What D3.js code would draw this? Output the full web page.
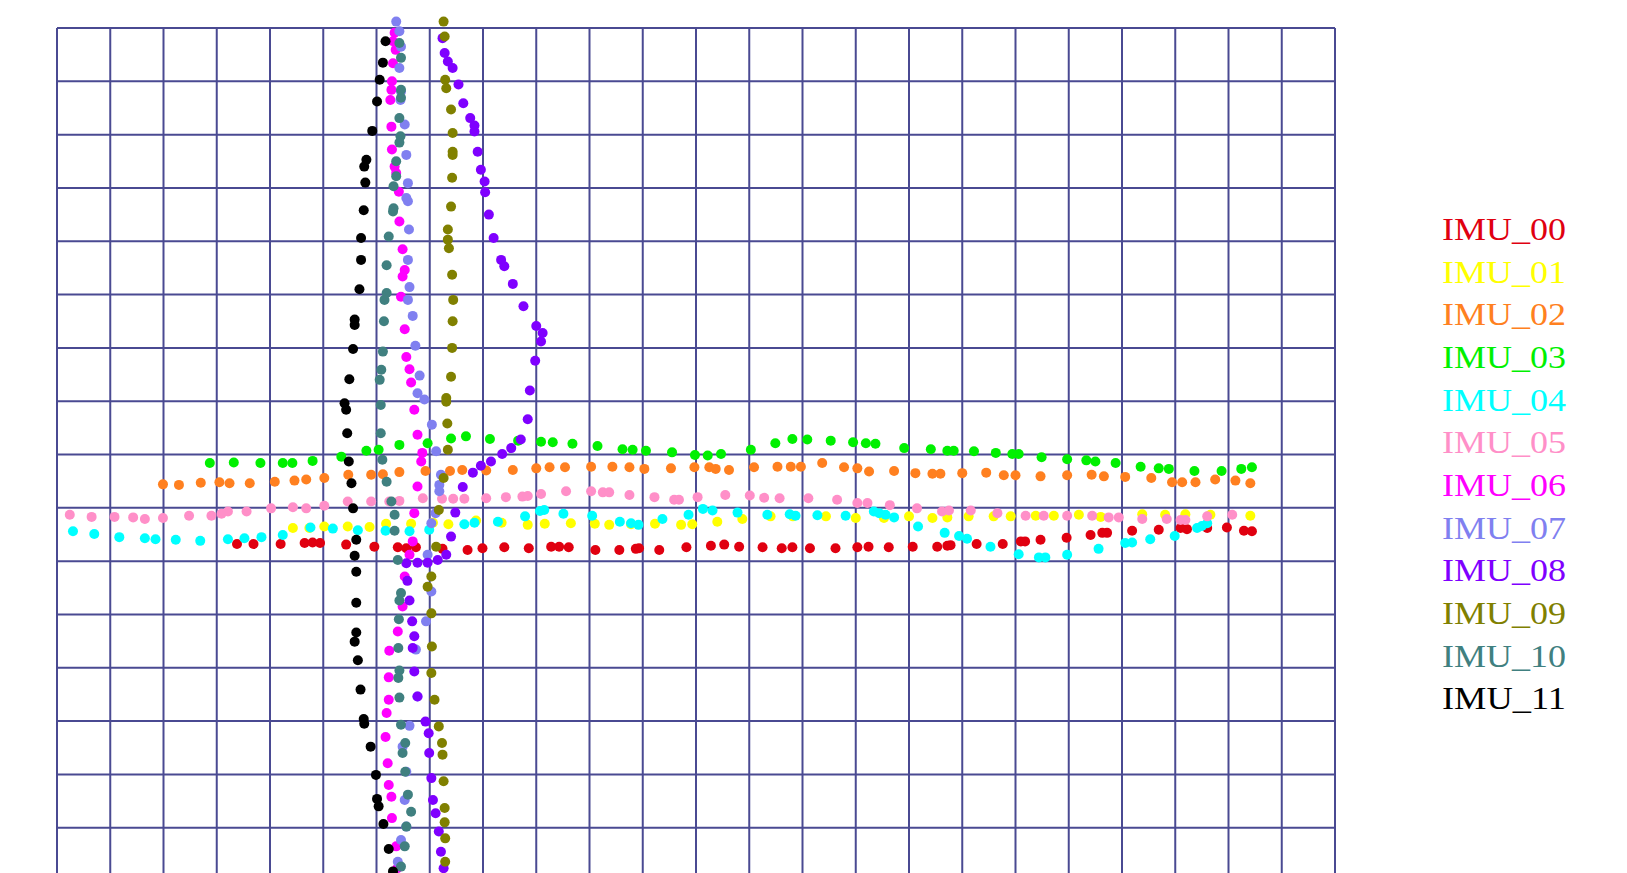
<!DOCTYPE html>
<html>
<head>
<meta charset="utf-8">
<script src="https://cdn.jsdelivr.net/npm/d3@7"></script>
<style>
  html, body { margin: 0; padding: 0; background: #ffffff; overflow: hidden; }
</style>
</head>
<body>
<svg id="chart" width="1627" height="873"></svg>
<script>
// positions of each IMU, one grid cell = 1 unit
const imu00 = [[-2.62,-0.68],[-2.31,-0.68],[-1.80,-0.68],[-1.35,-0.66],[-1.20,-0.65],[-1.06,-0.66],[-0.57,-0.69],[-0.04,-0.73],[0.40,-0.74],[0.56,-0.76],[0.74,-0.74],[1.24,-0.77],[1.71,-0.79],[1.99,-0.76],[2.40,-0.74],[2.86,-0.76],[3.28,-0.73],[3.43,-0.73],[3.61,-0.74],[4.11,-0.79],[4.56,-0.79],[4.87,-0.77],[4.93,-0.76],[5.31,-0.79],[5.82,-0.74],[6.28,-0.71],[6.53,-0.69],[6.81,-0.73],[7.25,-0.74],[7.61,-0.76],[7.81,-0.74],[8.14,-0.76],[8.62,-0.76],[9.03,-0.74],[9.24,-0.73],[9.62,-0.74],[10.07,-0.73],[10.53,-0.73],[10.72,-0.71],[10.78,-0.70],[11.27,-0.68],[11.76,-0.68],[12.10,-0.63],[12.18,-0.63],[12.47,-0.60],[12.96,-0.56],[13.41,-0.51],[13.63,-0.47],[13.72,-0.47],[14.19,-0.43],[14.69,-0.41],[15.10,-0.38],[15.22,-0.40],[15.60,-0.38],[15.97,-0.37],[16.29,-0.43],[16.44,-0.44]];
const imu01 = [[-1.57,-0.38],[-1.26,-0.38],[-0.98,-0.35],[-0.54,-0.35],[-0.13,-0.36],[0.18,-0.30],[0.65,-0.30],[1.06,-0.28],[1.35,-0.31],[1.87,-0.24],[2.35,-0.28],[2.84,-0.32],[3.16,-0.30],[3.65,-0.29],[4.10,-0.30],[4.37,-0.32],[4.78,-0.31],[5.23,-0.30],[5.72,-0.32],[5.93,-0.31],[6.40,-0.26],[6.87,-0.21],[7.40,-0.16],[7.82,-0.16],[8.44,-0.16],[9.00,-0.19],[9.53,-0.19],[10.00,-0.16],[10.44,-0.19],[10.72,-0.18],[11.12,-0.16],[11.59,-0.16],[11.91,-0.16],[12.38,-0.15],[12.72,-0.15],[13.19,-0.13],[13.60,-0.17],[14.38,-0.12],[14.81,-0.13],[15.19,-0.12],[15.66,-0.13],[16.41,-0.15]];
const imu02 = [[-4.01,0.44],[-3.71,0.43],[-3.30,0.47],[-2.95,0.48],[-2.76,0.46],[-2.38,0.46],[-1.91,0.49],[-1.54,0.51],[-1.32,0.53],[-0.98,0.56],[-0.53,0.62],[-0.10,0.62],[0.12,0.63],[0.43,0.67],[0.92,0.69],[1.38,0.69],[1.61,0.71],[2.06,0.70],[2.56,0.71],[3.00,0.74],[3.25,0.76],[3.54,0.76],[4.03,0.77],[4.43,0.77],[4.75,0.76],[5.03,0.73],[5.53,0.74],[5.97,0.76],[6.25,0.76],[6.37,0.73],[6.62,0.71],[7.09,0.76],[7.53,0.77],[7.78,0.77],[7.97,0.77],[8.37,0.84],[8.78,0.76],[9.03,0.74],[9.25,0.68],[9.72,0.69],[10.12,0.65],[10.44,0.64],[10.59,0.64],[11.00,0.65],[11.45,0.66],[11.78,0.61],[12.00,0.61],[12.47,0.59],[12.97,0.61],[13.43,0.62],[13.66,0.59],[14.06,0.58],[14.55,0.56],[14.94,0.48],[15.13,0.48],[15.38,0.48],[15.75,0.53],[16.13,0.51],[16.41,0.46]];
const imu03 = [[-3.13,0.84],[-2.68,0.85],[-2.18,0.84],[-1.76,0.84],[-1.58,0.84],[-1.20,0.88],[-0.66,0.96],[-0.19,1.07],[0.04,1.09],[0.43,1.18],[0.96,1.21],[1.40,1.30],[1.68,1.34],[2.13,1.29],[2.66,1.26],[3.09,1.24],[3.31,1.23],[3.68,1.20],[4.15,1.16],[4.62,1.10],[4.81,1.09],[5.06,1.07],[5.55,1.04],[5.98,0.99],[6.22,0.98],[6.47,1.01],[7.03,1.09],[7.49,1.21],[7.81,1.29],[8.09,1.28],[8.53,1.26],[8.95,1.23],[9.19,1.21],[9.37,1.20],[9.91,1.12],[10.41,1.10],[10.72,1.07],[10.84,1.07],[11.22,1.06],[11.63,1.03],[11.94,1.01],[12.06,1.01],[12.49,0.95],[12.97,0.91],[13.33,0.89],[13.50,0.87],[13.88,0.84],[14.35,0.77],[14.69,0.74],[14.88,0.73],[15.36,0.69],[15.87,0.69],[16.24,0.73],[16.44,0.76]];
const imu04 = [[-5.70,-0.44],[-5.30,-0.49],[-4.83,-0.55],[-4.35,-0.57],[-4.15,-0.59],[-3.77,-0.60],[-3.31,-0.62],[-2.79,-0.59],[-2.48,-0.57],[-2.16,-0.55],[-1.76,-0.51],[-1.24,-0.37],[-0.82,-0.39],[-0.35,-0.42],[0.17,-0.43],[0.62,-0.44],[0.99,-0.41],[1.65,-0.31],[1.84,-0.28],[2.28,-0.26],[2.79,-0.16],[3.07,-0.06],[3.15,-0.04],[3.51,-0.11],[4.05,-0.15],[4.57,-0.26],[4.78,-0.29],[4.92,-0.32],[5.37,-0.21],[5.86,-0.13],[6.13,-0.02],[6.31,-0.05],[6.78,-0.09],[7.34,-0.13],[7.76,-0.12],[7.87,-0.15],[8.28,-0.14],[8.81,-0.15],[9.34,-0.07],[9.44,-0.10],[9.56,-0.13],[9.72,-0.18],[10.17,-0.35],[10.67,-0.47],[10.94,-0.53],[11.09,-0.58],[11.53,-0.73],[12.06,-0.87],[12.44,-0.93],[12.56,-0.93],[12.97,-0.88],[13.56,-0.77],[14.06,-0.66],[14.19,-0.65],[14.53,-0.59],[14.99,-0.53],[15.41,-0.38],[15.50,-0.34],[15.60,-0.29]];
const imu05 = [[-5.76,-0.13],[-5.35,-0.17],[-4.92,-0.17],[-4.57,-0.18],[-4.35,-0.21],[-4.01,-0.19],[-3.52,-0.15],[-3.10,-0.15],[-2.91,-0.11],[-2.79,-0.07],[-2.44,-0.07],[-1.98,-0.01],[-1.57,0.01],[-1.32,-0.01],[-0.98,0.04],[-0.54,0.12],[-0.10,0.12],[0.24,0.12],[0.43,0.13],[0.87,0.18],[1.23,0.17],[1.44,0.17],[1.65,0.17],[2.06,0.18],[2.43,0.20],[2.74,0.21],[2.84,0.22],[3.09,0.26],[3.56,0.31],[4.03,0.31],[4.25,0.29],[4.37,0.29],[4.75,0.24],[5.22,0.20],[5.59,0.15],[5.68,0.15],[6.03,0.20],[6.55,0.24],[7.01,0.23],[7.28,0.19],[7.57,0.18],[8.11,0.18],[8.65,0.15],[9.03,0.09],[9.22,0.09],[9.64,0.05],[10.15,-0.01],[10.62,-0.07],[10.75,-0.05],[11.16,-0.05],[11.66,-0.10],[12.19,-0.15],[12.53,-0.15],[12.97,-0.15],[13.44,-0.15],[13.75,-0.18],[13.94,-0.18],[14.38,-0.21],[14.84,-0.21],[15.10,-0.23],[15.19,-0.23],[15.60,-0.16],[16.07,-0.13]];
const imu06 = [[0.34,8.91],[0.31,8.75],[0.36,8.59],[0.31,8.34],[0.29,8.00],[0.28,7.84],[0.26,7.65],[0.28,7.15],[0.29,6.72],[0.34,6.40],[0.37,6.28],[0.42,5.93],[0.43,5.37],[0.49,4.85],[0.53,4.46],[0.49,4.34],[0.46,3.96],[0.53,3.35],[0.56,2.83],[0.62,2.60],[0.65,2.35],[0.71,1.84],[0.77,1.37],[0.86,1.03],[0.84,0.87],[0.77,0.40],[0.71,-0.10],[0.68,-0.63],[0.62,-0.88],[0.53,-1.29],[0.49,-1.85],[0.40,-2.32],[0.24,-2.68],[0.23,-3.18],[0.23,-3.60],[0.19,-3.85],[0.17,-4.30],[0.21,-4.79],[0.23,-5.20],[0.28,-5.42],[0.29,-5.82],[0.37,-6.35],[0.39,-6.76]];
const imu07 = [[0.37,9.12],[0.43,8.94],[0.46,8.65],[0.43,8.25],[0.46,7.81],[0.45,7.65],[0.53,7.19],[0.56,6.62],[0.59,6.09],[0.56,5.81],[0.59,5.75],[0.61,5.22],[0.59,4.65],[0.62,4.14],[0.59,3.90],[0.68,3.60],[0.73,3.04],[0.81,2.48],[0.77,2.15],[0.90,2.03],[1.04,1.56],[1.12,1.06],[1.21,0.62],[1.18,0.43],[1.18,0.31],[1.11,-0.10],[1.03,-0.29],[0.96,-0.88],[1.03,-1.57],[0.93,-2.13],[0.74,-2.66],[0.77,-3.54],[0.62,-4.09],[0.49,-4.48],[0.56,-4.95],[0.53,-5.48],[0.56,-5.98],[0.46,-6.23],[0.40,-6.64]];
const imu08 = [[1.24,8.81],[1.28,8.53],[1.34,8.37],[1.43,8.25],[1.54,7.94],[1.63,7.59],[1.76,7.31],[1.84,7.17],[1.84,7.06],[1.90,6.68],[1.96,6.34],[2.03,6.12],[2.04,5.92],[2.11,5.50],[2.20,5.06],[2.34,4.65],[2.40,4.53],[2.56,4.20],[2.76,3.78],[3.00,3.41],[3.12,3.28],[3.09,3.12],[2.98,2.76],[2.88,2.20],[2.84,1.66],[2.71,1.28],[2.53,1.12],[2.36,1.01],[2.15,0.87],[1.96,0.79],[1.81,0.66],[1.62,0.39],[1.48,-0.09],[1.40,-0.54],[1.31,-0.88],[1.15,-0.98],[0.96,-1.03],[0.77,-1.03],[0.56,-1.04],[0.58,-1.37],[0.62,-1.74],[0.67,-2.13],[0.71,-2.41],[0.68,-2.63],[0.71,-3.07],[0.77,-3.54],[0.92,-4.01],[0.98,-4.23],[0.99,-4.60],[1.03,-5.07],[1.06,-5.48],[1.11,-5.73],[1.17,-6.07],[1.21,-6.45],[1.26,-6.76]];
const imu09 = [[1.26,9.12],[1.28,8.84],[1.29,8.03],[1.31,7.87],[1.40,7.47],[1.43,7.03],[1.43,6.68],[1.43,6.62],[1.42,6.19],[1.40,5.65],[1.34,5.22],[1.34,5.03],[1.36,4.87],[1.42,4.37],[1.44,3.90],[1.43,3.50],[1.42,3.00],[1.40,2.46],[1.31,2.06],[1.31,1.99],[1.33,1.58],[1.34,1.09],[1.26,0.56],[1.17,-0.04],[1.12,-0.73],[1.03,-1.29],[0.96,-1.48],[1.03,-1.98],[1.04,-2.60],[1.03,-3.10],[1.09,-3.60],[1.17,-4.10],[1.23,-4.41],[1.24,-4.63],[1.26,-5.13],[1.28,-5.63],[1.28,-5.90],[1.29,-6.20],[1.29,-6.64]];
const imu10 = [[0.43,8.72],[0.46,8.44],[0.46,7.84],[0.46,7.69],[0.43,7.31],[0.45,6.97],[0.43,6.85],[0.37,6.50],[0.37,6.22],[0.32,6.03],[0.32,5.62],[0.31,5.56],[0.23,5.09],[0.19,4.55],[0.19,4.03],[0.15,3.90],[0.14,3.50],[0.12,2.93],[0.09,2.59],[0.06,2.40],[0.08,1.93],[0.08,1.40],[0.11,0.90],[0.19,0.49],[0.28,0.12],[0.34,-0.13],[0.34,-0.43],[0.40,-0.98],[0.46,-1.60],[0.43,-1.74],[0.42,-2.09],[0.41,-2.63],[0.43,-3.05],[0.41,-3.19],[0.43,-3.56],[0.46,-4.07],[0.54,-4.41],[0.49,-4.60],[0.54,-4.95],[0.59,-5.38],[0.65,-5.70],[0.56,-5.98],[0.53,-6.35],[0.46,-6.73]];
const imu11 = [[0.17,8.75],[0.12,8.35],[0.06,8.03],[0.01,7.62],[-0.08,7.07],[-0.19,6.53],[-0.23,6.40],[-0.21,6.10],[-0.24,5.58],[-0.29,5.06],[-0.29,4.65],[-0.32,4.10],[-0.41,3.53],[-0.41,3.43],[-0.44,2.98],[-0.51,2.41],[-0.60,1.96],[-0.57,1.84],[-0.55,1.40],[-0.52,0.87],[-0.47,0.46],[-0.44,-0.01],[-0.38,-0.60],[-0.41,-0.90],[-0.38,-1.20],[-0.38,-1.78],[-0.38,-2.34],[-0.41,-2.51],[-0.35,-2.86],[-0.30,-3.41],[-0.24,-3.96],[-0.23,-4.05],[-0.11,-4.48],[-0.01,-5.01],[0.01,-5.46],[0.04,-5.60],[0.13,-5.93],[0.23,-6.40],[0.31,-6.82]];

const names = ['IMU_00', 'IMU_01', 'IMU_02', 'IMU_03', 'IMU_04', 'IMU_05',
               'IMU_06', 'IMU_07', 'IMU_08', 'IMU_09', 'IMU_10', 'IMU_11'];
const colors = ['#e00010', '#ffff00', '#ff8020', '#00f000', '#00ffff', '#ff8fc8',
                '#ff00ff', '#8080f0', '#7f00ff', '#808000', '#408080', '#000000'];
const series = [imu00, imu01, imu02, imu03, imu04, imu05,
                imu06, imu07, imu08, imu09, imu10, imu11];

const xDomain = [-6, 18];
const yDomain = [-7, 9];

const svg = d3.select('#chart');

const x = d3.scaleLinear().domain(xDomain).range([57, 1335]);
const y = d3.scaleLinear().domain(yDomain).range([881, 28]);

// grid, one line per unit
const grid = svg.append('g').attr('class', 'grid')
  .attr('stroke', '#4a4a92')
  .attr('stroke-width', 2);

grid.selectAll('line.v')
  .data(d3.range(xDomain[0], xDomain[1] + 1))
  .join('line')
  .attr('class', 'v')
  .attr('x1', d => x(d)).attr('x2', d => x(d))
  .attr('y1', y(yDomain[1])).attr('y2', y(yDomain[0]));

grid.selectAll('line.h')
  .data(d3.range(yDomain[0], yDomain[1] + 1))
  .join('line')
  .attr('class', 'h')
  .attr('x1', x(xDomain[0])).attr('x2', x(xDomain[1]))
  .attr('y1', d => y(d)).attr('y2', d => y(d));

// dots
const dots = svg.append('g').attr('class', 'dots');
series.forEach((pts, i) => {
  dots.append('g')
    .attr('fill', colors[i])
    .selectAll('circle')
    .data(pts)
    .join('circle')
    .attr('cx', d => x(d[0]))
    .attr('cy', d => y(d[1]))
    .attr('r', 5);
});

// legend
const legend = svg.append('g').attr('class', 'legend')
  .attr('transform', 'translate(1442,240)');

legend.selectAll('text')
  .data(names)
  .join('text')
  .attr('x', 0)
  .attr('y', (d, i) => i * 42.65)
  .attr('fill', (d, i) => colors[i])
  .style('font-family', '"Liberation Serif", "DejaVu Serif", serif')
  .style('font-size', '32px')
  .attr('textLength', 124)
  .attr('lengthAdjust', 'spacingAndGlyphs')
  .text(d => d);
</script>
</body>
</html>
